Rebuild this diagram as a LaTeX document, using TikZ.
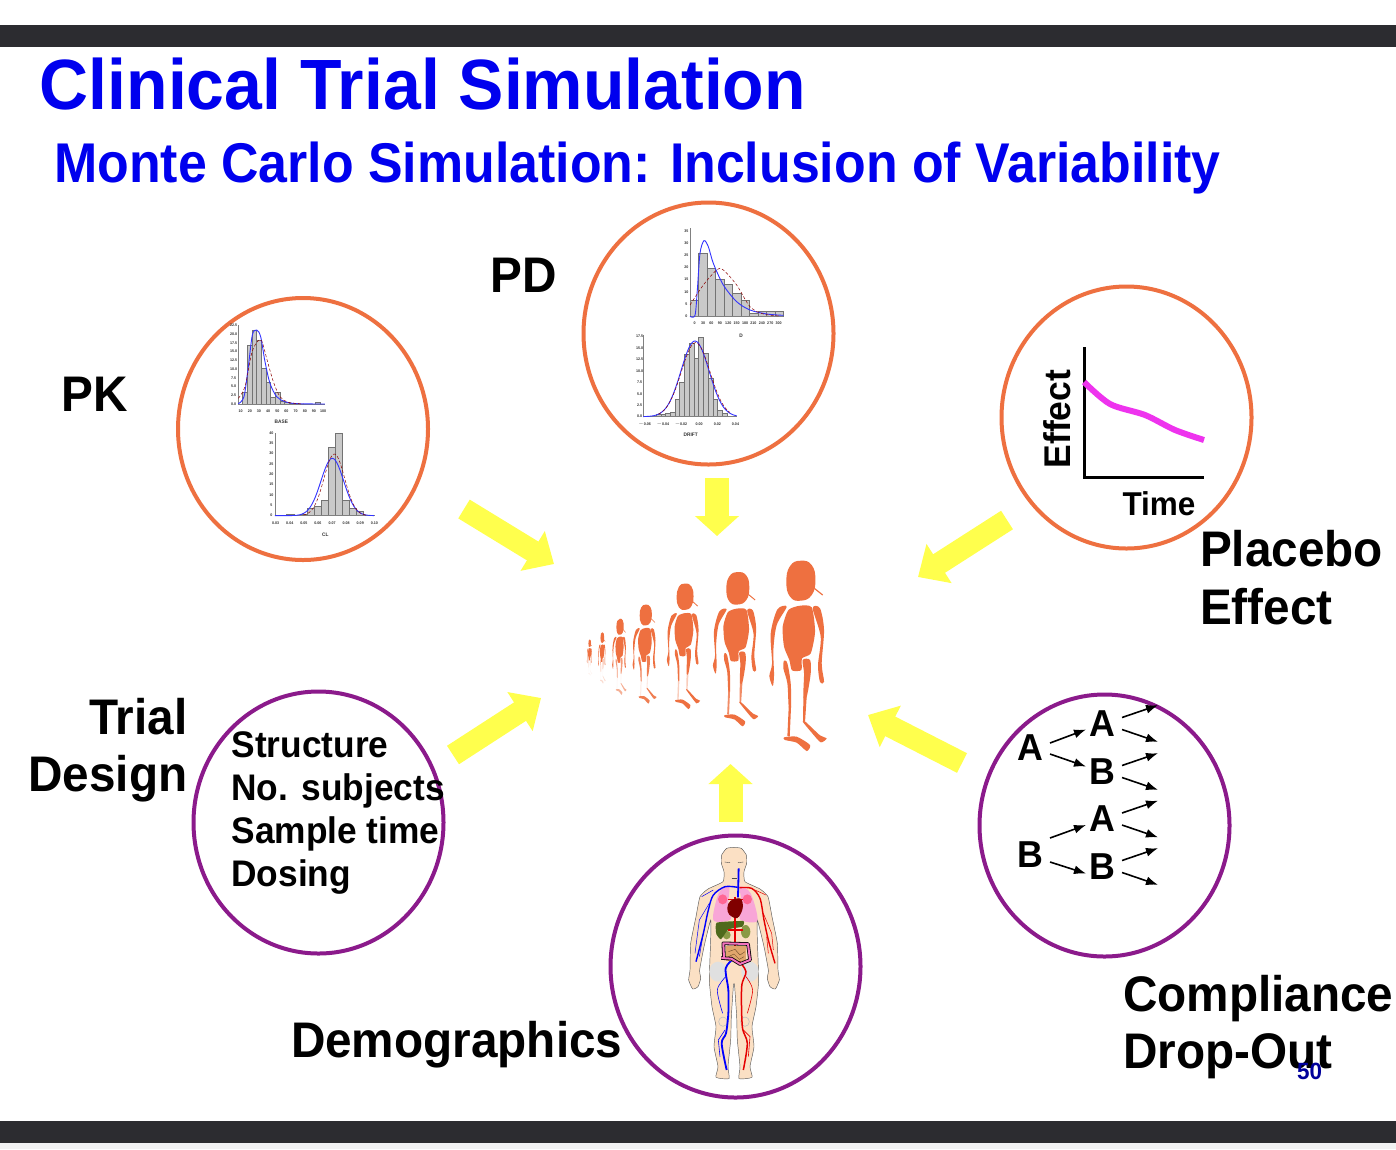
\documentclass[tikz,border=0pt]{standalone}
\usepackage{fontspec}
\setmainfont[FakeStretch=0.954]{Liberation Sans}
\usetikzlibrary{arrows.meta,calc,shapes.geometric}
\definecolor{barc}{HTML}{2C2C30}
\definecolor{titlec}{HTML}{0000EE}
\definecolor{oran}{HTML}{EE7040}
\definecolor{purp}{HTML}{8B1A8B}
\definecolor{yell}{HTML}{FFFF4D}
\definecolor{magc}{HTML}{EE33EE}
\definecolor{skin}{HTML}{FBE0C4}
\definecolor{pagenum}{HTML}{00009B}
\definecolor{histg}{HTML}{C9C9C9}
\definecolor{liverc}{HTML}{4F6A1C}
\definecolor{kidc}{HTML}{8A9A45}
\tikzset{
 txt/.style={inner sep=0pt,outer sep=0pt,text=black,font=\bfseries\fontsize{50}{57.5}\selectfont},
 innertxt/.style={txt,font=\bfseries\fontsize{37}{43}\selectfont},
 circ/.style={ellipse,draw=#1,line width=4pt,minimum width=250pt,minimum height=262pt,inner sep=0pt,fill=none},
 yarrow/.style={draw=yell,line width=22pt,-{Triangle[length=25pt,width=45pt,fill=yell]}},
 yarrowv/.style={draw=yell,line width=24pt,-{Triangle[length=20pt,width=43pt,fill=yell]}},
 small/.style={line width=1.6pt,-{Latex[length=12pt,width=9pt]}},
 ltr/.style={inner sep=0pt,outer sep=0pt,minimum width=40pt,font=\bfseries\fontsize{37.5}{40}\selectfont},
 bar/.style={fill=histg,draw=black!55,line width=.35pt},
 tick/.style={inner sep=0pt,font=\bfseries\fontsize{3.8}{4}\selectfont,text=black!80},
 axis/.style={draw=black!50,line width=.4pt},
 bluec/.style={draw=blue!80!white,line width=.9pt},
 redc/.style={draw=red!55!black,line width=.5pt,densely dashed},
 organ/.style={line join=round},
}
\newcommand\histo[4]{\foreach \t [count=\i] in {#4}{\path[bar] ({#1+(\i-1)*#3},#2) rectangle ({#1+\i*#3},\t);}}
\newcommand\xticks[5]{\foreach \v [count=\i] in {#5}{\node[tick] (#1x\i) at ({#2+(\i-1)*#3},#4) {\v};}}
\newcommand\yticks[5]{\foreach \v [count=\i] in {#5}{\node[tick] (#1y\i) at (#2,{#3-(\i-1)*#4}) {\v};}}
\newcommand\person[7]{%
\begin{scope}[shift={(#1,#2)},x=#3*.3333pt,y=-#4*.3333pt,shift={(-662,-92)}]
\fill[oran] plot[smooth cycle,tension=.8] coordinates {(662,32)(695,45)(706,90)(695,135)(662,152)(630,140)(619,95)(630,48)};
\draw[oran,line width=#4*1.2pt] (703,115) -- (728,135);
\fill[oran] plot[smooth cycle,tension=.4] coordinates {(625,180)(660,167)(695,172)(705,245)(692,310)(666,325)(664,360)(636,361)(628,330)(612,290)(608,230)};
\fill[oran] plot[smooth cycle,tension=.5] coordinates {(620,170)(592,178)(572,250)(576,340)(568,378)(578,408)(582,375)(580,300)(590,225)};
\fill[oran] plot[smooth cycle,tension=.5] coordinates {(698,175)(720,175)(732,240)(725,340)(732,395)(720,396)(714,345)(722,260)};
\fill[oran,opacity=#5] plot[smooth cycle,tension=.5] coordinates {(612,332)(622,340)(632,400)(633,470)(626,470)(622,400)(610,355)};
\fill[oran,opacity=#6] (633,470) -- (629,560) -- (622,558) -- (626,470) -- cycle;
\fill[oran,opacity=#7] plot[smooth cycle,tension=.4] coordinates {(612,562)(650,560)(690,585)(680,603)(650,578)(615,570)};
\fill[oran,opacity=#5] plot[smooth cycle,tension=.5] coordinates {(668,330)(690,330)(692,370)(680,440)(670,440)(672,370)};
\fill[oran,opacity=#6] (680,440) -- (675,515) -- (669,515) -- (670,440) -- cycle;
\fill[oran,opacity=#7] plot[smooth cycle,tension=.4] coordinates {(668,515)(676,515)(720,556)(740,565)(722,577)(695,548)};
\end{scope}}
\begin{document}
\begin{tikzpicture}[x=1pt,y=-1pt]
\useasboundingbox (0,0) rectangle (1396,1149);
\fill[white] (0,0) rectangle (1396,1149);
\fill[black!5] (0,1143) rectangle (1396,1149);
\fill[barc] (0,25) rectangle (1396,47);
\fill[barc] (0,1121) rectangle (1396,1143);

% titles
\node[inner sep=0pt,anchor=base west,text=titlec,font=\bfseries\fontsize{71.2}{75}\selectfont] (title) at (39.5,109) {Clinical Trial Simulation};
\node[inner sep=0pt,anchor=base west,text=titlec,font=\bfseries\fontsize{56}{60}\selectfont] (subtitle) at (54,182) {\scalebox{.971}[1]{Monte Carlo Simulation: Inclusion of Variability}};

% arrows' ends
\coordinate (a1t) at (464,509); \coordinate (a1h) at (554,564);
\coordinate (a2t) at (717,478); \coordinate (a2h) at (717,536);
\coordinate (a3t) at (1007,520); \coordinate (a3h) at (918,577);
\coordinate (a4t) at (453,755); \coordinate (a4h) at (541,698);
\coordinate (a5t) at (730.5,822); \coordinate (a5h) at (730.5,764);
\coordinate (a6t) at (962,763); \coordinate (a6h) at (868,715);
\draw[yarrow] (a1t) -- (a1h);
\draw[yarrowv] (a2t) -- (a2h);
\draw[yarrow] (a3t) -- (a3h);
\draw[yarrow] (a4t) -- (a4h);
\draw[yarrowv] (a5t) -- (a5h);
\draw[yarrow] (a6t) -- (a6h);

% circles
\node[circ=oran] (pkc) at (303,429) {};
\node[circ=oran] (pdc) at (708.5,333.5) {};
\node[circ=oran] (plc) at (1126.5,417.5) {};
\node[circ=purp] (trc) at (318.5,822.5) {};
\node[circ=purp] (dmc) at (735.5,966.5) {};
\node[circ=purp] (cmc) at (1104.5,825.5) {};

% PK charts
\begin{scope}[shift={(170,290)},x=.3333pt,y=-.3333pt]
\histo{218}{342}{14}{308,167,122,150,235,278,322,308,335,338,340,341}
\path[bar] (436,342) rectangle (450,338);
\draw[axis] (205,105) -- (205,342) -- (465,342);
\draw[bluec] plot[smooth] coordinates {(205,341)(222,320)(235,230)(247,135)(260,120)(272,140)(285,215)(300,280)(320,320)(345,335)(380,341)(465,342)};
\draw[redc] plot[smooth] coordinates {(205,325)(225,290)(245,190)(262,155)(275,152)(290,205)(310,275)(330,320)(355,337)(400,342)};
\xticks{pka}{212}{27.5}{363}{10,20,30,40,50,60,70,80,90,100}
\yticks{pka}{191}{342}{26.2}{0.0,2.5,5.0,7.5,10.0,12.5,15.0,17.5,20.0,22.5}
\node[tick,font=\bfseries\fontsize{5}{6}\selectfont] (pkax) at (334,395) {BASE};
\histo{412}{677}{21}{656,650,630,473,430,632,656,665}
\path[bar] (350,677) rectangle (372,673);
\path[bar] (390,677) rectangle (412,673);
\draw[axis] (315,430) -- (315,677) -- (615,677);
\draw[bluec,domain=315:612,samples=60] plot (\x,{677-172*exp(-((\x-487)/34)^2/2)});
\draw[redc,domain=400:590,samples=50] plot (\x,{677-185*exp(-((\x-493)/31)^2/2)});
\xticks{pkb}{317}{42.3}{700}{0.03,0.04,0.05,0.06,0.07,0.08,0.09,0.10}
\yticks{pkb}{304}{677}{31}{0,5,10,15,20,25,30,35,40}
\node[tick,font=\bfseries\fontsize{5}{6}\selectfont] (pkbx) at (466,734) {CL};
\end{scope}

% PD charts
\begin{scope}[shift={(580,200)},x=.3333pt,y=-.3333pt]
\histo{330}{349}{25.5}{302,160,205,238,253,280,302,340,335,335,335}
\draw[axis] (330,85) -- (330,349) -- (610,349);
\draw[bluec] plot[smooth,tension=.5] coordinates {(330,349)(345,346)(352,270)(360,160)(372,122)(385,140)(400,190)(430,255)(470,305)(510,330)(560,342)(610,346)};
\draw[redc] plot[smooth] coordinates {(330,315)(370,255)(410,210)(430,210)(470,255)(510,320)(550,342)(600,348)};
\xticks{pda}{344}{25.2}{371}{0,30,60,90,120,150,180,210,240,270,300}
\yticks{pda}{319}{349}{36.7}{0,5,10,15,20,25,30,35}
\node[tick,font=\bfseries\fontsize{5}{6}\selectfont] (pdax) at (483,407) {D};
\histo{228}{650}{14.2}{643,643,640,637,597,547,462,430,475,412,460,534,597,630,640}
\draw[axis] (190,405) -- (190,650) -- (470,650);
\draw[bluec,domain=190:470,samples=60] plot (\x,{650-227*exp(-((\x-345)/42)^2/2)});
\draw[redc,domain=235:450,samples=50] plot (\x,{650-222*exp(-((\x-347)/43)^2/2)});
\xticks{pdb}{194}{54.5}{673}{$-$0.06,$-$0.04,$-$0.02,0.00,0.02,0.04}
\yticks{pdb}{179}{650}{34.3}{0.0,2.5,5.0,7.5,10.0,12.5,15.0,17.5}
\node[tick,font=\bfseries\fontsize{5}{6}\selectfont] (pdbx) at (332,704) {DRIFT};
\end{scope}

% placebo plot
\coordinate (ao) at (1084,477); \coordinate (ay) at (1084,347); \coordinate (ax) at (1204,477);
\draw[line width=3pt,line join=miter] (ay) -- (ao) -- (ax);
\coordinate (m1) at (1084,382); \coordinate (m2) at (1110,404); \coordinate (m3) at (1145,415); \coordinate (m4) at (1175,430); \coordinate (m5) at (1204,440);
\draw[magc,line width=6pt] plot[smooth,tension=.5] coordinates {(m1)(m2)(m3)(m4)(m5)};
\node[txt,font=\bfseries\fontsize{37.2}{40}\selectfont,rotate=90,anchor=center] (effect) at (1057.5,419) {Effect};
\node[txt,font=\bfseries\fontsize{33}{36}\selectfont,anchor=center] (time) at (1159,504) {Time};

% labels
\node[txt,anchor=base west] (pk) at (61.5,411) {PK};
\node[txt,anchor=base west] (pd) at (490.5,292) {PD};
\node[txt,anchor=north west,align=left] (plac) at (1200,530.5) {Placebo\\Effect};
\node[txt,anchor=north east,align=right] (trial) at (187.5,698) {Trial\\Design};
\node[txt,anchor=base west] (demo) at (291,1057) {Demographics};
\node[txt,anchor=north west,align=left] (comp) at (1123,975) {Compliance\\Drop-Out};
\node[innertxt,anchor=north west,align=left] (struct) at (231.5,732) {Structure\\No. subjects\\Sample time\\Dosing};
\node[inner sep=0pt,anchor=base west,text=pagenum,font=\bfseries\fontsize{23.5}{26}\selectfont] (pnum) at (1297,1079) {50};

% compliance tree
\node[ltr] (r1) at (1030,748) {A};
\node[ltr] (r2) at (1030,855) {B};
\node[ltr] (s1) at (1102,723.5) {A};
\node[ltr] (s2) at (1102,771.5) {B};
\node[ltr] (s3) at (1102,819) {A};
\node[ltr] (s4) at (1102,866.5) {B};
\draw[small] ([yshift=5pt]r1.east) -- ([xshift=4pt,yshift=-6pt]s1.west);
\draw[small] ([yshift=-6pt]r1.east) -- ([xshift=4pt,yshift=5pt]s2.west);
\draw[small] ([yshift=17pt]r2.east) -- ([xshift=4pt,yshift=-6pt]s3.west);
\draw[small] ([yshift=-7pt]r2.east) -- ([xshift=4pt,yshift=-7pt]s4.west);
\foreach \n in {s1,s2,s3,s4}{
 \coordinate (\n u) at ($(\n.center)+(56,-18.3)$);
 \coordinate (\n d) at ($(\n.center)+(56,18.3)$);
 \draw[small] ([yshift=6pt]\n.east) -- (\n u);
 \draw[small] ([yshift=-6pt]\n.east) -- (\n d);
}

% people
\person{589.7}{643.3}{.09}{.19}{.3}{.03}{.08}
\person{602.3}{637.7}{.13}{.27}{.5}{.04}{.25}
\person{620}{626.7}{.25}{.40}{.7}{.07}{.55}
\person{645.7}{615}{.42}{.52}{.9}{.14}{.9}
\person{685}{596.7}{.58}{.66}{1}{.35}{1}
\person{737.7}{588.3}{.79}{.81}{1}{.8}{1}
\person{800.7}{580.7}{1}{1}{1}{1}{1}

% anatomy
\begin{scope}[shift={(660,840)},x=.3333pt,y=-.3333pt]
\foreach \s in {1,-1}{
\begin{scope}[shift={(222,0)},xscale=\s]
\path[fill=skin,draw=black!65,line width=.45pt] plot[smooth,tension=.3] coordinates {(0,22)(22,25)(37,45)(38,70)(30,95)(33,125)(78,147)(102,170)(114,230)(130,310)(132,390)(136,420)(124,447)(108,440)(100,415)(103,390)(90,320)(70,240)(70,300)(74,420)(66,500)(54,560)(60,620)(48,680)(54,712)(15,716)(18,680)(10,600)(8,530)(2,440)(0,430)};
\fill[black!12] (48,395) ellipse (26 and 30);
\draw[black!25,line width=.6pt] (33,545) ellipse (13 and 14);
\draw[black!70,line width=.4pt] (12,68) -- (28,66);
\end{scope}}
\draw[black!70,line width=.35pt] (215,115) -- (232,115);
% lungs
\fill[magenta!35!white,organ] plot[smooth cycle,tension=.5] coordinates {(207,140)(176,160)(160,240)(212,238)(205,190)};
\fill[magenta!35!white,organ] plot[smooth cycle,tension=.5] coordinates {(240,140)(272,160)(292,242)(240,238)(245,190)};
\fill[red!70!magenta!60!white] (188,178) ellipse (14 and 15);
\fill[red!70!magenta!60!white] (262,178) ellipse (14 and 15);
% liver, kidneys
\fill[kidc] (200,285) ellipse (12 and 13);
\fill[kidc] (257,275) ellipse (14 and 20);
\fill[liverc,organ] plot[smooth cycle,tension=.25] coordinates {(170,248)(250,243)(247,260)(205,268)(183,298)(169,282)};
% arteries
\draw[red!90!black,line width=1.8pt] (225,170) -- (225,350);
\draw[red!90!black,line width=1.4pt] (205,178) -- (250,178);
\draw[red!90!black,line width=1.4pt] (205,270) -- (250,270);
\draw[red!90!black,line width=1.4pt] plot[smooth] coordinates {(238,143)(275,145)(300,175)(312,240)(325,300)(345,370)};
\draw[red!90!black,line width=.5pt] (310,220) -- (335,280) -- (340,330);
\draw[red!90!black,line width=.5pt] (320,290) -- (325,340);
\draw[red!90!black,line width=.5pt] (285,150) -- (318,165);
\draw[red!90!black,line width=1.5pt] plot[smooth] coordinates {(235,360)(258,395)(245,440)(247,560)(262,610)(250,690)};
\draw[red!90!black,line width=.6pt] plot[smooth] coordinates {(258,410)(278,450)(262,520)};
\draw[red!90!black,line width=.6pt] (250,570) -- (270,590) -- (265,650);
% veins
\draw[blue,line width=1.8pt] (236,85) -- (234,172);
\draw[blue,line width=1.4pt] plot[smooth] coordinates {(233,142)(195,140)(160,165)(145,210)(130,280)(108,365)};
\draw[blue,line width=.5pt] (148,190) -- (118,240) -- (105,340);
\draw[blue,line width=.5pt] (130,280) -- (118,350);
\draw[blue,line width=.5pt] (160,150) -- (125,170);
\draw[blue,line width=1.8pt] plot[smooth] coordinates {(222,355)(197,385)(205,450)(205,520)(198,580)(185,610)(200,690)};
\draw[blue,line width=.6pt] plot[smooth] coordinates {(197,410)(172,450)(188,520)};
\draw[blue,line width=.6pt] (195,570) -- (175,600) -- (180,650);
% heart
\fill[red!50!black,organ] plot[smooth cycle,tension=.6] coordinates {(212,182)(242,176)(248,205)(232,234)(208,224)(202,203)};
% intestines
\fill[brown!70!orange!70!white] (198,318) rectangle (258,362);
\draw[brown!50!black,line width=.35pt] (205,335) -- (225,328) -- (240,345) -- (255,335);
\draw[brown!50!black,line width=.35pt] (205,350) -- (222,342) -- (238,358) -- (252,350);
\draw[black,line width=3.6pt,line join=round] (192,355) -- (190,310) -- (264,312) -- (270,360) -- (240,372) -- (214,356) -- (184,354);
\draw[magenta!55!white,line width=2pt,line join=round] (192,355) -- (190,310) -- (264,312) -- (270,360) -- (240,372) -- (214,356) -- (184,354);
\end{scope}
\end{tikzpicture}
\end{document}
